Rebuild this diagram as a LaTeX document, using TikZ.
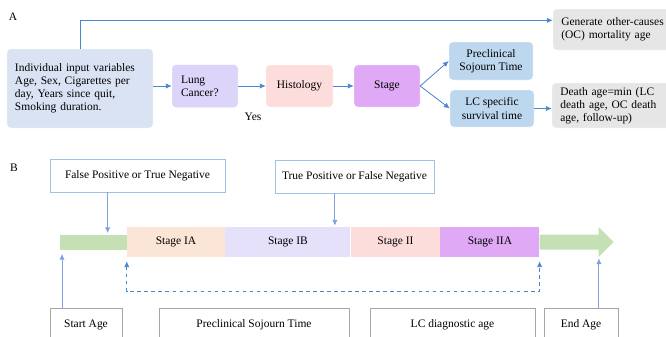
\documentclass[tikz,border=0pt]{standalone}
\usepackage{fontspec}
\setmainfont{Liberation Serif}
\usetikzlibrary{arrows.meta,calc}

\definecolor{linkblue}{HTML}{4A86D0}
\definecolor{lineblue}{HTML}{7FA3DC}
\definecolor{inputblue}{HTML}{DAE3F3}
\definecolor{lungviolet}{HTML}{DCD5F9}
\definecolor{histpink}{HTML}{FDDCDC}
\definecolor{stagepurple}{HTML}{DFA9F6}
\definecolor{timeblue}{HTML}{BDD7EE}
\definecolor{outgrey}{HTML}{E6E6E6}
\definecolor{bargreen}{HTML}{C5E0B4}
\definecolor{iapeach}{HTML}{FBE5D6}
\definecolor{iblilac}{HTML}{E6E1FB}
\definecolor{framegrey}{HTML}{A6A6A6}
\definecolor{frameblue}{HTML}{9DC3E6}

\begin{document}
\begin{tikzpicture}[x=0.03cm,y=-0.03cm,
	font=\fontsize{9.8}{11.2}\selectfont,
	>={Latex[length=5pt,width=4.5pt]},
	wh/.style 2 args={minimum width=#1*0.03cm,minimum height=#2*0.03cm},
	flow/.style={draw=white,rounded corners=3pt,inner sep=0pt,align=center},
	flowl/.style={flow,align=left,inner xsep=0.24cm},
	arr/.style={->,draw=linkblue,line width=0.7pt},
	up/.style={->,draw=lineblue,line width=0.8pt},
	seg/.style={inner sep=0pt,minimum height=0.9cm},
	note/.style={draw=frameblue,fill=white,line width=0.6pt,inner sep=0pt},
	age/.style={draw=framegrey,fill=white,line width=0.6pt,inner sep=0pt}]

	\useasboundingbox (0,0) rectangle (666,337);
	\clip (0,0) rectangle (666,337);

	% panel A
	\node at (13,17) {A};
	\node[flowl,fill=inputblue,wh={146}{79},text width=3.9cm] (inp) at (80,88.5)
		{Individual input variables\\Age, Sex, Cigarettes per\\day, Years since quit,\\Smoking duration.};
	\node[flowl,fill=lungviolet,wh={66}{43},text width=1.44cm,inner xsep=0.27cm] (lc) at (205,86) {Lung\\Cancer?};
	\node[flow,fill=histpink,wh={67}{42}] (hist) at (299.5,86) {Histology};
	\node[flow,fill=stagepurple,wh={66}{42}] (stage) at (387,86) {Stage};
	\node[flow,fill=timeblue,wh={84}{38}] (pst) at (491,61) {Preclinical\\Sojourn Time};
	\node[flow,fill=timeblue,wh={84}{37}] (lcs) at (492,108.5) {LC specific\\survival time};
	\node[flowl,fill=outgrey,wh={130}{45},text width=3.4cm] (death) at (617,105.5)
		{Death age=min (LC\\death age, OC death\\age, follow-up)};
	\node[flowl,fill=outgrey,wh={130}{41},text width=3.4cm] (gen) at (618,29.5)
		{Generate other-causes\\(OC) mortality age};
	\node (yes) at (253,117) {Yes};

	% flow
	\draw[arr] (inp.east |- lc.west) -- (lc.west);
	\draw[arr] (lc) -- (hist);
	\draw[arr] (hist) -- (stage);
	\draw[arr] (stage.east) -- (pst.west);
	\draw[arr] (stage.east) -- (lcs.west);
	\draw[arr] (lcs) -- (death.west |- lcs);
	\draw[arr] (inp.north) |- (gen.172);

	% panel B
	\node at (14,168) {B};
	\node[note,wh={175}{33}] (fp) at (137.5,175.5) {False Positive or True Negative};
	\node[note,wh={159}{33}] (tp) at (354.5,176.5) {True Positive or False Negative};

	% stages
	\node[seg,fill=iapeach,wh={98}{30}] (ia) at (176,242) {Stage IA};
	\node[seg,fill=iblilac,wh={125}{30},anchor=west] (ib) at (ia.east) {Stage IB};
	\node[seg,fill=histpink,wh={89}{30},anchor=west] (ii) at (ib.east) {Stage II};
	\node[seg,fill=stagepurple,wh={99}{30},anchor=west] (iia) at (ii.east) {Stage IIA};
	\node[seg,fill=bargreen,wh={67}{15},anchor=east] (pre) at (ia.west) {};
	\fill[bargreen] (iia.east) ++(0,-7.5) -- ++(59,0) -- ++(0,-7.5) -- ++(15,15)
		-- ++(-15,15) -- ++(0,-7.5) -- ++(-59,0) -- cycle;

	% ages
	\node[age,wh={72}{34}] (sa) at (86,325) {Start Age};
	\node[age,wh={190}{34}] (pt) at (254,325) {Preclinical Sojourn Time};
	\node[age,wh={165}{34}] (lca) at (452.5,325) {LC diagnostic age};
	\node[age,wh={74}{34}] (ea) at (581,325) {End Age};

	% down
	\coordinate (fpfoot) at ($(fp.south west)!0.33!(fp.south east)$);
	\coordinate (tpfoot) at ($(tp.south west)!0.377!(tp.south east)$);
	\draw[up] (fpfoot) -- ($(fpfoot |- pre.north)+(0,-1)$);
	\draw[up] (tpfoot) -- ($(tpfoot |- ib.north)+(0,-1)$);

	% up
	\coordinate (safoot) at ($(sa.north west)!0.17!(sa.north east)$);
	\coordinate (eafoot) at ($(ea.north west)!0.74!(ea.north east)$);
	\draw[up] (safoot) -- ($(safoot |- pre.south)+(0,4)$);
	\draw[up] (eafoot) -- ($(eafoot |- iia.south)+(0,1)$);

	% sojourn
	\draw[<->,dashed,draw=linkblue,line width=0.7pt] ($(ia.south west)+(0,4)$) -- ++(0,30)
		-| ($(iia.south east)+(0,4)$);

\end{tikzpicture}
\end{document}
